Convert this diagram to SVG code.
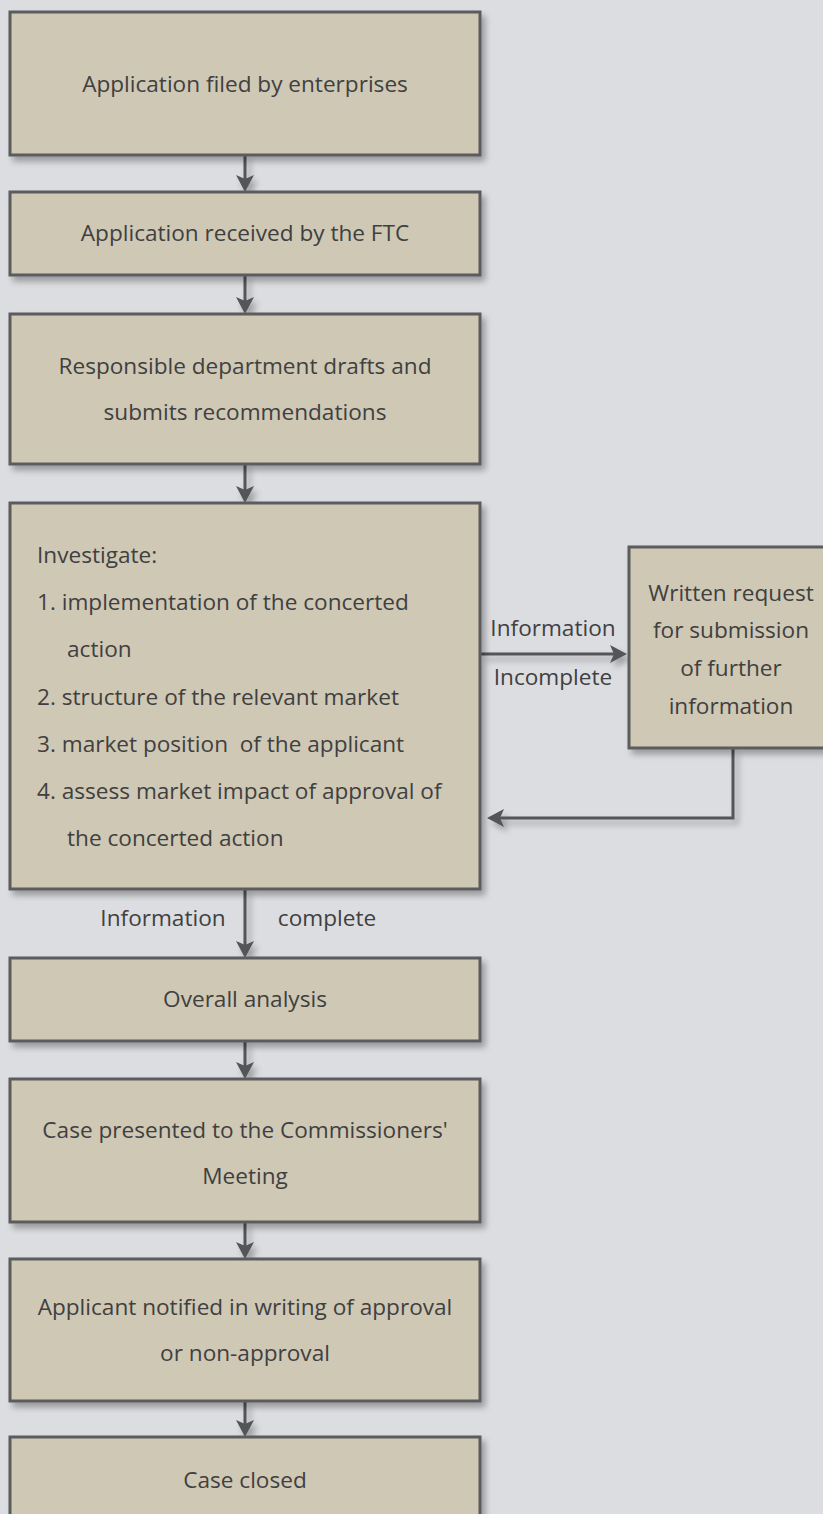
<svg xmlns="http://www.w3.org/2000/svg" width="823" height="1514" viewBox="0 0 823 1514">
<style>
.box{fill:#cfc8b5;stroke:#5a5b5d;stroke-width:3}
.t{font-family:"Open Sans","Liberation Sans",sans-serif;font-size:22.6px;fill:#404040}
.c{text-anchor:middle}
.ln{fill:none;stroke:#535458;stroke-width:3}
</style>
<defs>
<filter id="sh" x="-10%" y="-10%" width="130%" height="130%">
<feGaussianBlur in="SourceAlpha" stdDeviation="3"/>
<feOffset dx="4" dy="5" result="b"/>
<feComponentTransfer><feFuncA type="linear" slope="0.3"/></feComponentTransfer>
<feMerge><feMergeNode/><feMergeNode in="SourceGraphic"/></feMerge>
</filter>
<marker id="ah" markerUnits="userSpaceOnUse" markerWidth="17" markerHeight="18" viewBox="0 0 17 18" refX="6" refY="9" orient="auto">
<path d="M0,0 L17,9 L0,18 L4,9 Z" fill="#535458"/>
</marker>
</defs>
<rect width="823" height="1514" fill="#dcdde0"/>

<g id="connectors">
<g filter="url(#sh)">
<line class="ln" x1="245" y1="155" x2="245" y2="181" marker-end="url(#ah)"/>
<line class="ln" x1="245" y1="275" x2="245" y2="303" marker-end="url(#ah)"/>
<line class="ln" x1="245" y1="464" x2="245" y2="492" marker-end="url(#ah)"/>
<line class="ln" x1="481" y1="654" x2="616" y2="654" marker-end="url(#ah)"/>
<polyline class="ln" points="733,749 733,818 498,818" marker-end="url(#ah)"/>
<line class="ln" x1="245" y1="889" x2="245" y2="947" marker-end="url(#ah)"/>
<line class="ln" x1="245" y1="1041" x2="245" y2="1068" marker-end="url(#ah)"/>
<line class="ln" x1="245" y1="1222" x2="245" y2="1248" marker-end="url(#ah)"/>
<line class="ln" x1="245" y1="1401" x2="245" y2="1426" marker-end="url(#ah)"/>
</g>
<text class="t c" x="553" y="636">Information</text>
<text class="t c" x="553" y="685">Incomplete</text>
<text class="t c" x="163" y="926">Information</text>
<text class="t c" x="327" y="926">complete</text>
</g>

<g id="n1">
<rect class="box" x="10" y="12" width="470" height="143" filter="url(#sh)"/>
<text class="t c" x="245" y="92">Application filed by enterprises</text>
</g>
<g id="n2">
<rect class="box" x="10" y="192" width="470" height="83" filter="url(#sh)"/>
<text class="t c" x="245" y="241">Application received by the FTC</text>
</g>
<g id="n3">
<rect class="box" x="10" y="314" width="470" height="150" filter="url(#sh)"/>
<text class="t c" x="245" y="374">Responsible department drafts and</text>
<text class="t c" x="245" y="420">submits recommendations</text>
</g>
<g id="n4">
<rect class="box" x="10" y="503" width="470" height="386" filter="url(#sh)"/>
<text class="t" x="37" y="563">Investigate:</text>
<text class="t" x="37" y="610">1. implementation of the concerted</text>
<text class="t" x="67" y="657">action</text>
<text class="t" x="37" y="705">2. structure of the relevant market</text>
<text class="t" x="37" y="752" xml:space="preserve">3. market position  of the applicant</text>
<text class="t" x="37" y="799">4. assess market impact of approval of</text>
<text class="t" x="67" y="846">the concerted action</text>
</g>
<g id="n4b">
<rect class="box" x="629" y="547" width="204" height="201" filter="url(#sh)"/>
<text class="t c" x="731" y="601">Written request</text>
<text class="t c" x="731" y="638">for submission</text>
<text class="t c" x="731" y="676">of further</text>
<text class="t c" x="731" y="714">information</text>
</g>
<g id="n5">
<rect class="box" x="10" y="958" width="470" height="83" filter="url(#sh)"/>
<text class="t c" x="245" y="1007">Overall analysis</text>
</g>
<g id="n6">
<rect class="box" x="10" y="1079" width="470" height="143" filter="url(#sh)"/>
<text class="t c" x="245" y="1138">Case presented to the Commissioners'</text>
<text class="t c" x="245" y="1184">Meeting</text>
</g>
<g id="n7">
<rect class="box" x="10" y="1259" width="470" height="142" filter="url(#sh)"/>
<text class="t c" x="245" y="1315">Applicant notified in writing of approval</text>
<text class="t c" x="245" y="1361">or non-approval</text>
</g>
<g id="n8">
<rect class="box" x="10" y="1437" width="470" height="90" filter="url(#sh)"/>
<text class="t c" x="245" y="1488">Case closed</text>
</g>
</svg>
